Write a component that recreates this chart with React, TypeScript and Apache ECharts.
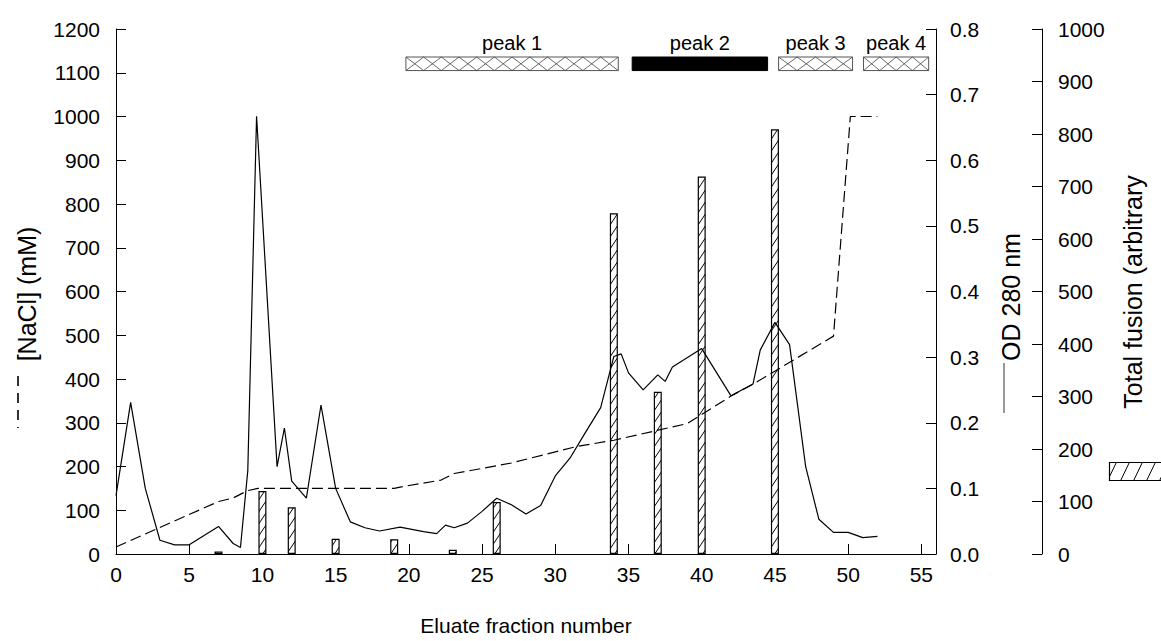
import React, { useEffect, useRef } from 'react';
import * as echarts from 'echarts';

const FONT = '"Liberation Sans", Arial, Helvetica, sans-serif';

// OD 280 nm (solid line, right axis 0-0.8)
const odX = [0, 1, 2, 3, 4, 5, 7, 8, 8.5, 9, 9.6, 11, 11.5, 12, 13, 14, 15, 16, 17, 18, 19.4, 21, 21.9, 22.5, 23.1, 24, 25, 26, 27, 28, 29, 30, 31, 32, 33.1, 34, 34.5, 35, 36, 37, 37.5, 38, 40, 42, 43.5, 44, 45, 46, 47.1, 48, 49, 50, 51, 52];
const odY = [0.089, 0.231, 0.1, 0.021, 0.014, 0.014, 0.042, 0.016, 0.01, 0.127, 0.667, 0.133, 0.192, 0.111, 0.085, 0.227, 0.1, 0.049, 0.04, 0.035, 0.041, 0.034, 0.031, 0.044, 0.04, 0.047, 0.065, 0.085, 0.075, 0.061, 0.074, 0.119, 0.146, 0.183, 0.223, 0.301, 0.305, 0.276, 0.25, 0.273, 0.263, 0.285, 0.313, 0.241, 0.259, 0.311, 0.353, 0.319, 0.133, 0.053, 0.033, 0.033, 0.025, 0.027];

// [NaCl] mM (dashed line, left axis)
const naclX = [0, 7, 8, 9, 9.7, 19, 19.4, 22.2, 23.1, 27, 31.5, 34, 39, 42, 43.6, 49, 50.15, 52];
const naclY = [16, 120, 128, 145, 150, 150, 153, 169, 184, 208, 246, 260, 298, 361, 390, 498, 1000, 1000];

// Total fusion (hatched bars, third axis)
const fusionX = [7, 10, 12, 15, 19, 23, 26, 34, 37, 40, 45];
const fusionY = [5, 120, 89, 29, 28, 8, 99, 649, 309, 719, 809];

// Peak pools (top bars)
const peakNames = ['peak 1', 'peak 2', 'peak 3', 'peak 4'];
const peakStart = [19.8, 35.25, 45.25, 51.05];
const peakEnd = [34.3, 44.5, 50.3, 55.5];
const peakSolid = [0, 1, 0, 0];
const peakLow = 1105;
const peakHigh = 1136;

function makeHatch(w: number, h: number, lw: number) {
  const c = document.createElement('canvas');
  c.width = w;
  c.height = h;
  const ctx = c.getContext('2d')!;
  ctx.fillStyle = '#fff';
  ctx.fillRect(0, 0, w, h);
  ctx.strokeStyle = '#000';
  ctx.lineWidth = lw;
  ctx.beginPath();
  ctx.moveTo(0, h);
  ctx.lineTo(w, 0);
  ctx.moveTo(-w, h);
  ctx.lineTo(0, 0);
  ctx.moveTo(w, h);
  ctx.lineTo(2 * w, 0);
  ctx.stroke();
  return c;
}

export default function App() {
  const ref = useRef<HTMLDivElement>(null);
  useEffect(() => {
    document.body.style.margin = '0';
    if (!ref.current) return;
    const chart = echarts.init(ref.current, undefined, { renderer: 'svg' });
    const barPattern = makeHatch(8, 12, 1);
    const legendPattern = makeHatch(13, 27, 1);

    const axisCommon = {
      axisLine: { show: true, lineStyle: { color: '#000', width: 1 } },
      axisTick: { show: true, inside: true, length: 10, lineStyle: { color: '#000', width: 1 } },
      splitLine: { show: false },
      axisLabel: { color: '#000', fontSize: 21, fontFamily: FONT, formatter: (v: number) => String(v) },
    };

    const option: any = {
      animation: false,
      backgroundColor: '#fff',
      grid: { left: 116, right: 225, top: 29, bottom: 79, containLabel: false },
      xAxis: {
        type: 'value',
        min: 0,
        max: 56,
        interval: 5,
        ...axisCommon,
        axisLabel: {
          ...axisCommon.axisLabel,
          margin: 10,
          showMaxLabel: false,
          formatter: (v: number) => (v % 5 === 0 ? String(v) : ''),
        },
        name: 'Eluate fraction number',
        nameLocation: 'middle',
        nameGap: 61,
        nameTextStyle: { color: '#000', fontSize: 21, fontFamily: FONT },
      },
      yAxis: [
        {
          type: 'value',
          position: 'left',
          min: 0,
          max: 1200,
          interval: 100,
          ...axisCommon,
          axisLabel: { ...axisCommon.axisLabel, margin: 16 },
        },
        {
          type: 'value',
          position: 'right',
          min: 0,
          max: 0.8,
          interval: 0.1,
          ...axisCommon,
          axisLabel: { ...axisCommon.axisLabel, margin: 14, formatter: (v: number) => v.toFixed(1) },
        },
        {
          type: 'value',
          position: 'right',
          offset: 106,
          min: 0,
          max: 1000,
          interval: 100,
          ...axisCommon,
          axisLabel: { ...axisCommon.axisLabel, margin: 16 },
        },
      ],
      graphic: [
        {
          type: 'text',
          x: 27,
          y: 294,
          rotation: Math.PI / 2,
          style: { text: '[NaCl] (mM)', fill: '#000', fontSize: 25, fontFamily: FONT, align: 'center', verticalAlign: 'middle' },
        },
        {
          type: 'line',
          shape: { x1: 18, y1: 376, x2: 18, y2: 428 },
          style: { stroke: '#000', lineWidth: 1.6, lineDash: [10, 7] },
        },
        {
          type: 'text',
          x: 1011,
          y: 297,
          rotation: Math.PI / 2,
          style: { text: 'OD 280 nm', fill: '#000', fontSize: 25, fontFamily: FONT, align: 'center', verticalAlign: 'middle' },
        },
        {
          type: 'line',
          shape: { x1: 1004, y1: 363, x2: 1004, y2: 413 },
          style: { stroke: '#777', lineWidth: 1.5 },
        },
        {
          type: 'text',
          x: 1133,
          y: 292,
          rotation: Math.PI / 2,
          style: { text: 'Total fusion (arbitrary', fill: '#000', fontSize: 25, fontFamily: FONT, align: 'center', verticalAlign: 'middle' },
        },
        {
          type: 'rect',
          shape: { x: 1109.5, y: 462.5, width: 60, height: 18 },
          style: { fill: { image: legendPattern, repeat: 'repeat' } as any, stroke: '#000', lineWidth: 1.2 },
        },
      ],
      series: [
        {
          type: 'custom',
          xAxisIndex: 0,
          yAxisIndex: 0,
          silent: true,
          clip: false,
          encode: { x: [0, 1], y: [2, 3] },
          data: peakNames.map((_, i) => [peakStart[i], peakEnd[i], peakLow, peakHigh, peakSolid[i]]),
          renderItem: (params: any, api: any) => {
            const i = params.dataIndex;
            const p0 = api.coord([api.value(0), api.value(3)]);
            const p1 = api.coord([api.value(1), api.value(2)]);
            const x = p0[0];
            const y = p0[1];
            const w = p1[0] - p0[0];
            const h = p1[1] - p0[1];
            const solid = api.value(4) === 1;
            const children: any[] = [
              {
                type: 'rect',
                shape: { x, y, width: w, height: h },
                style: { fill: solid ? '#000' : '#fff', stroke: solid ? '#000' : '#555', lineWidth: 1 },
              },
            ];
            if (!solid) {
              const n = Math.max(1, Math.round(w / 17));
              const cw = w / n;
              for (let k = 0; k < n; k++) {
                children.push({
                  type: 'line',
                  shape: { x1: x + k * cw, y1: y, x2: x + (k + 1) * cw, y2: y + h },
                  style: { stroke: '#444', lineWidth: 0.8 },
                });
                children.push({
                  type: 'line',
                  shape: { x1: x + k * cw, y1: y + h, x2: x + (k + 1) * cw, y2: y },
                  style: { stroke: '#444', lineWidth: 0.8 },
                });
              }
            }
            children.push({
              type: 'text',
              x: x + w / 2,
              y: y - 4,
              style: { text: peakNames[i], fill: '#000', fontSize: 20, fontFamily: FONT, align: 'center', verticalAlign: 'bottom' },
            });
            return { type: 'group', children };
          },
        },
        {
          type: 'bar',
          xAxisIndex: 0,
          yAxisIndex: 2,
          barWidth: 8,
          silent: true,
          data: fusionX.map((x, i) => [x, fusionY[i]]),
          itemStyle: { color: { image: barPattern, repeat: 'repeat' }, borderColor: '#000', borderWidth: 1.2 },
        },
        {
          type: 'line',
          xAxisIndex: 0,
          yAxisIndex: 0,
          showSymbol: false,
          symbol: 'none',
          silent: true,
          data: naclX.map((x, i) => [x, naclY[i]]),
          lineStyle: { color: '#000', width: 1.2, type: [11, 5] },
        },
        {
          type: 'line',
          xAxisIndex: 0,
          yAxisIndex: 1,
          showSymbol: false,
          symbol: 'none',
          silent: true,
          data: odX.map((x, i) => [x, odY[i]]),
          lineStyle: { color: '#000', width: 1.2 },
        },
      ],
    };
    chart.setOption(option);
    return () => {
      chart.dispose();
    };
  }, []);
  return <div ref={ref} style={{ width: 1161, height: 641 }} />;
}
